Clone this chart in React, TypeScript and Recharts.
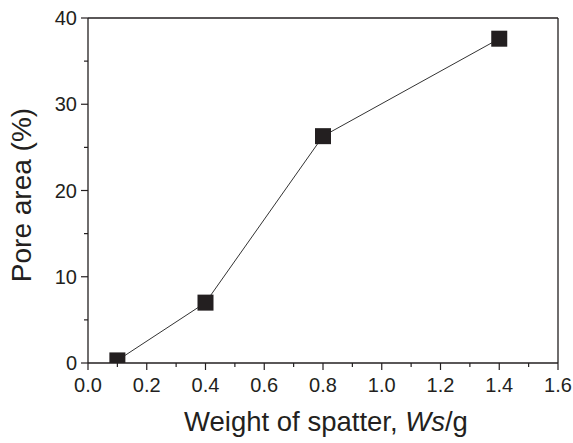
import * as Recharts from 'recharts';
import { LineChart, Line, XAxis, YAxis, ReferenceLine, ResponsiveContainer } from 'recharts';

const spatterWeight = [0.1, 0.4, 0.8, 1.4];
const poreArea = [0.3, 7.0, 26.3, 37.6];

const xTicks = [0, 0.1, 0.2, 0.3, 0.4, 0.5, 0.6, 0.7, 0.8, 0.9, 1.0, 1.1, 1.2, 1.3, 1.4, 1.5, 1.6];
const yTicks = [0, 5, 10, 15, 20, 25, 30, 35, 40];

const data = spatterWeight.map((w, i) => ({ w, area: poreArea[i] }));

const INK = '#231f20';
const FONT = '"Liberation Sans", Arial, Helvetica, sans-serif';
const TICK_FONT = 20;

// the plot area, if this recharts build exposes the hook
const usePlotArea: () => any = (Recharts as any).usePlotArea || (() => null);

function XTick({ x, y, payload, index }: any) {
  const major = index % 2 === 0;
  return (
    <g>
      <line x1={x} x2={x} y1={y} y2={y + (major ? 7 : 4)} stroke={INK} strokeWidth={1.2} />
      {major && (
        <text x={x} y={y + 29} textAnchor="middle" fontSize={TICK_FONT} fontFamily={FONT} fill={INK}>
          {payload.value.toFixed(1)}
        </text>
      )}
    </g>
  );
}

function YTick({ x, y, payload, index }: any) {
  const major = index % 2 === 0;
  return (
    <g>
      <line x1={x} x2={x - (major ? 7 : 4)} y1={y} y2={y} stroke={INK} strokeWidth={1.2} />
      {major && (
        <text x={x - 11} y={y + 7} textAnchor="end" fontSize={TICK_FONT} fontFamily={FONT} fill={INK}>
          {payload.value}
        </text>
      )}
    </g>
  );
}

// square marker, cut at the bottom axis like the original
function SquareDot({ cx, cy }: any) {
  const area = usePlotArea();
  const top = cy - 8;
  let bottom = cy + 8;
  if (area && bottom > area.y + area.height) bottom = area.y + area.height;
  return <rect x={cx - 8} y={top} width={16} height={bottom - top} fill={INK} />;
}

export default function App() {
  return (
    <div style={{ position: 'absolute', left: 0, top: 0, width: 573, height: 443, background: '#fff' }}>
      <ResponsiveContainer width={573} height={443}>
        <LineChart data={data} margin={{ top: 18, right: 15, bottom: 50, left: 28 }}>
          <XAxis
            dataKey="w"
            type="number"
            domain={[0, 1.6]}
            ticks={xTicks}
            interval={0}
            tick={<XTick />}
            tickLine={false}
            tickSize={0}
            tickMargin={0}
            axisLine={{ stroke: INK, strokeWidth: 1.3 }}
            height={30}
          />
          <YAxis
            type="number"
            domain={[0, 40]}
            ticks={yTicks}
            interval={0}
            tick={<YTick />}
            tickLine={false}
            tickSize={0}
            tickMargin={0}
            axisLine={{ stroke: INK, strokeWidth: 1.3 }}
            width={60}
          />
          <ReferenceLine y={40} stroke={INK} strokeWidth={1.3} ifOverflow="visible" />
          <ReferenceLine x={1.6} stroke={INK} strokeWidth={1.3} ifOverflow="visible" />
          <Line
            dataKey="area"
            stroke="#333"
            strokeWidth={1}
            dot={<SquareDot />}
            isAnimationActive={false}
          />
        </LineChart>
      </ResponsiveContainer>
      <div
        style={{
          position: 'absolute',
          left: 326,
          top: 422,
          transform: 'translate(-50%, -50%)',
          whiteSpace: 'nowrap',
          fontFamily: FONT,
          fontSize: 27.5,
          color: INK,
        }}
      >
        Weight of spatter, <i>Ws</i>/g
      </div>
      <div
        style={{
          position: 'absolute',
          left: 22,
          top: 195,
          transform: 'translate(-50%, -50%) rotate(-90deg)',
          whiteSpace: 'nowrap',
          fontFamily: FONT,
          fontSize: 28,
          color: INK,
        }}
      >
        Pore area (%)
      </div>
    </div>
  );
}
